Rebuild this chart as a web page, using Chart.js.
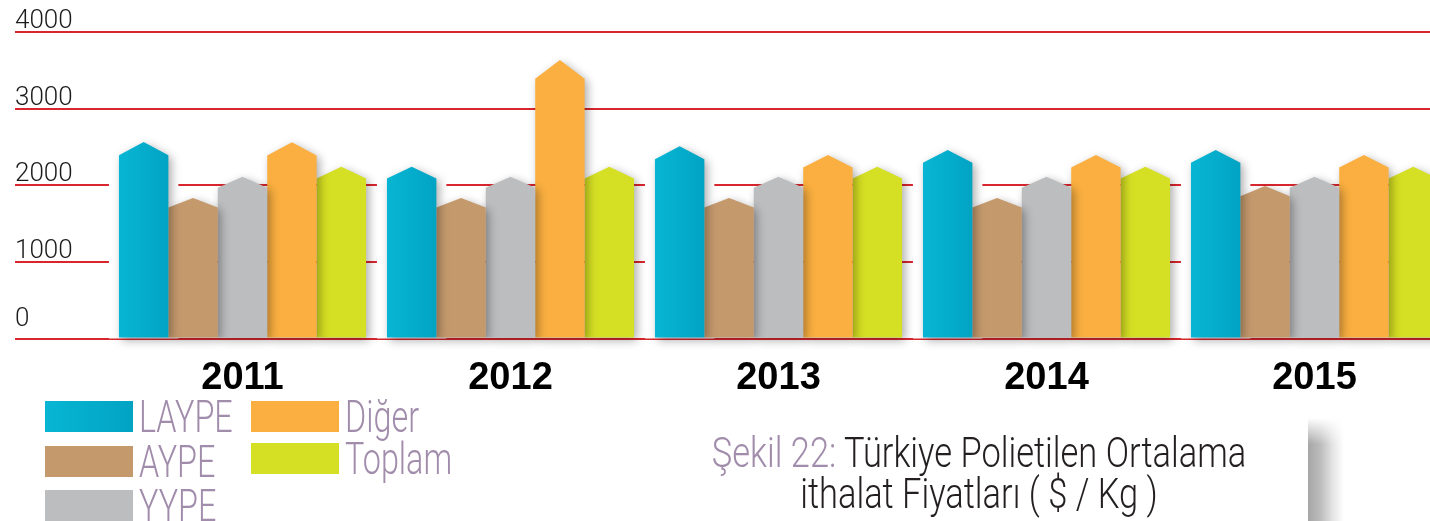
<!DOCTYPE html>
<html lang="tr">
<head>
<meta charset="utf-8">
<title>Türkiye Polietilen Ortalama ithalat Fiyatları</title>
<script src="https://cdn.jsdelivr.net/npm/chart.js@4.4.1/dist/chart.umd.min.js"></script>
<style>
  html, body { margin: 0; padding: 0; width: 1430px; height: 521px; overflow: hidden; background: #fff; }
  #wrap { position: absolute; left: 0; top: 0; width: 1460px; height: 400px; }
  .swatch { position: absolute; width: 88px; height: 31px; }
  .lbl, .cap {
    position: absolute; white-space: nowrap; line-height: 1;
    font-family: Roboto, "Open Sans", sans-serif; font-weight: 300;
  }
  .lbl { font-size: 44px; color: #a18dab; transform: scaleX(0.735); transform-origin: left top; }
  .cap { font-size: 42px; color: #231f20; left: 379px; width: 1200px; text-align: center;
         transform: scaleX(0.82); transform-origin: 600px 0; }
  .cap .pre { color: #a18dab; }
  #fold {
    position: absolute; left: 1308px; top: 418px; width: 36px; height: 103px;
    background: linear-gradient(to right, #a6a6a6 0%, #bdbdbd 35%, #e6e6e6 70%, #fff 100%);
    -webkit-mask-image: linear-gradient(to bottom, transparent 0, #000 26px);
  }
</style>
</head>
<body>
<div id="wrap"><canvas id="chart" width="1460" height="400"></canvas></div>
<div id="legend"></div>
<div class="cap" style="top:432px"><span class="pre">Şekil 22:</span> Türkiye Polietilen Ortalama</div>
<div class="cap" style="top:473px">ithalat Fiyatları ( $ / Kg )</div>
<div id="fold"></div>

<script>
const years = ['2011', '2012', '2013', '2014', '2015'];
const seriesNames = ['LAYPE', 'AYPE', 'YYPE', 'Diğer', 'Toplam'];
const laype = [2565, 2240, 2510, 2460, 2460];
const aype = [1835, 1835, 1835, 1835, 1990];
const yype = [2110, 2110, 2110, 2110, 2110];
const diger = [2560, 3635, 2395, 2395, 2395];
const toplam = [2240, 2240, 2240, 2240, 2240];
const yTicks = [0, 1000, 2000, 3000, 4000];
const seriesColors = ['#05b1cf', '#c4996c', '#bcbdbf', '#faaf40', '#d5df23'];

// legend boxes, column-major like the original
const legendSlots = [[45, 401], [45, 446], [45, 490], [251, 401], [251, 443]];

// Arrow-shaped bars with soft shadows, drawn from the bar elements' geometry
const arrowBars = {
    id: 'arrowBars',
    beforeDatasetDraw() { return false; },
    afterDatasetsDraw(chart) {
        const ctx = chart.ctx;
        const metas = chart.getSortedVisibleDatasetMetas();
        ctx.save();

        // white halo round the first series hides the grid next to it
        metas[0].data.forEach(bar => {
            const { x, y, base, width } = bar.getProps(['x', 'y', 'base', 'width'], true);
            ctx.fillStyle = '#fff';
            ctx.fillRect(x - width / 2 - 10, y, width + 20, base - y + 1);
        });

        for (let i = metas.length - 1; i >= 0; i--) {
            metas[i].data.forEach(bar => {
                const { x, y, base, width } = bar.getProps(['x', 'y', 'base', 'width'], true);
                const left = x - width / 2;
                const right = x + width / 2;
                const tip = (base - y) * 0.068;

                ctx.beginPath();
                ctx.moveTo(left, base);
                ctx.lineTo(left, y + tip);
                ctx.lineTo(x, y);
                ctx.lineTo(right, y + tip);
                ctx.lineTo(right, base);
                ctx.closePath();

                if (i === 0) {
                    const g = ctx.createLinearGradient(left, 0, right, 0);
                    g.addColorStop(0, '#07b6d4');
                    g.addColorStop(1, '#02a3c3');
                    ctx.fillStyle = g;
                } else {
                    ctx.fillStyle = seriesColors[i];
                }
                ctx.shadowColor = 'rgba(0,0,0,0.33)';
                ctx.shadowBlur = 10;
                ctx.shadowOffsetX = 3;
                ctx.shadowOffsetY = 3;
                ctx.fill();
            });
        }
        ctx.restore();
    }
};

// y labels sit just above their grid lines
const yLabels = {
    id: 'yLabels',
    afterDraw(chart) {
        const s = chart.scales.y;
        const ctx = chart.ctx;
        ctx.save();
        ctx.font = '300 26px Roboto';
        ctx.fillStyle = '#1b1b1b';
        ctx.textAlign = 'left';
        ctx.textBaseline = 'alphabetic';
        s.ticks.forEach(t => {
            const y = s.getPixelForValue(t.value);
            ctx.fillText(String(t.value), s.left, y - (t.value === 0 ? 13 : 4));
        });
        ctx.restore();
    }
};

const seriesData = [laype, aype, yype, diger, toplam];

new Chart(document.getElementById('chart'), {
    type: 'bar',
    data: {
        labels: years,
        datasets: seriesNames.map((name, i) => ({
            label: name,
            data: seriesData[i],
            backgroundColor: seriesColors[i],
            categoryPercentage: 0.922,
            barPercentage: 1.0
        }))
    },
    options: {
        responsive: false,
        animation: false,
        layout: { padding: { left: 15, right: 11.5, top: 32, bottom: 0 } },
        plugins: {
            legend: { display: false },
            tooltip: { enabled: false }
        },
        scales: {
            x: {
                grid: { display: false, drawTicks: false },
                border: { display: false },
                ticks: {
                    color: '#000',
                    font: { family: '"Liberation Sans", Arial, sans-serif', size: 38, weight: 'bold' },
                    padding: 17,
                    maxRotation: 0
                },
                afterFit: s => { s.height = 61.5; }
            },
            y: {
                min: 0,
                max: 4000,
                afterBuildTicks: s => { s.ticks = yTicks.map(v => ({ value: v })); },
                grid: { color: '#d9262e', lineWidth: 2, drawTicks: true, tickLength: 93.5 },
                border: { display: false },
                ticks: { display: false },
                afterFit: s => { s.width = 93.5; }
            }
        }
    },
    plugins: [arrowBars, yLabels]
});

// legend
const legend = document.getElementById('legend');
seriesNames.forEach((name, i) => {
    const [lx, ly] = legendSlots[i];
    const sw = document.createElement('div');
    sw.className = 'swatch';
    sw.style.left = lx + 'px';
    sw.style.top = ly + 'px';
    sw.style.background = i === 0
        ? 'linear-gradient(to right, #07b6d4, #02a3c3)'
        : seriesColors[i];
    legend.appendChild(sw);

    const t = document.createElement('div');
    t.className = 'lbl';
    t.textContent = name;
    t.style.left = (lx + 94) + 'px';
    t.style.top = (ly - 6) + 'px';
    legend.appendChild(t);
});
</script>
</body>
</html>
